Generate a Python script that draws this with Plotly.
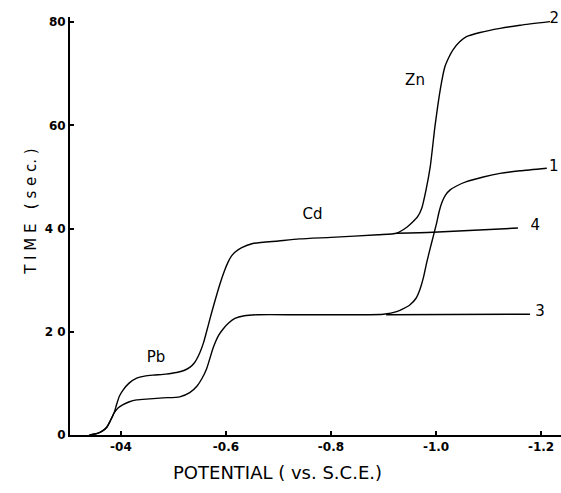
import plotly.graph_objects as go

# Chronopotentiometric transition curves, potential (V vs. S.C.E.) against time (sec.)
curve1_potential = [-0.340, -0.355, -0.365, -0.373, -0.380, -0.387, -0.395, -0.404, -0.415, -0.430,
                    -0.455, -0.480, -0.512, -0.531, -0.545, -0.554, -0.563, -0.576, -0.586, -0.595,
                    -0.605, -0.617, -0.635, -0.660, -0.740, -0.850, -0.900, -0.925, -0.950, -0.962,
                    -0.969, -0.976, -0.982, -0.989, -0.995, -1.001, -1.006, -1.011, -1.018, -1.027,
                    -1.040, -1.058, -1.090, -1.122, -1.160, -1.211]
curve1_time = [0.0, 0.3, 0.8, 1.5, 2.8, 4.3, 5.3, 5.9, 6.4, 6.8,
               7.0, 7.2, 7.4, 8.2, 9.5, 10.9, 12.8, 17.0, 19.3, 20.6,
               21.7, 22.6, 23.1, 23.3, 23.3, 23.3, 23.4, 23.9, 25.2, 26.5,
               28.1, 30.5, 33.3, 36.2, 38.6, 41.0, 43.3, 45.0, 46.5, 47.5,
               48.3, 49.1, 50.0, 50.7, 51.2, 51.7]

curve2_potential = [-0.340, -0.355, -0.365, -0.373, -0.380, -0.387, -0.392, -0.397, -0.404, -0.415,
                    -0.430, -0.445, -0.461, -0.485, -0.506, -0.520, -0.531, -0.540, -0.550, -0.557,
                    -0.563, -0.570, -0.576, -0.589, -0.597, -0.604, -0.610, -0.617, -0.630, -0.651,
                    -0.700, -0.740, -0.800, -0.890, -0.925, -0.945, -0.956, -0.965, -0.973, -0.981,
                    -0.989, -0.998, -1.008, -1.017, -1.025, -1.032, -1.045, -1.058, -1.084, -1.122,
                    -1.160, -1.217]
curve2_time = [0.0, 0.3, 0.8, 1.5, 2.8, 4.3, 6.0, 7.5, 8.7, 10.0,
               11.0, 11.4, 11.6, 11.8, 12.1, 12.5, 13.1, 14.0, 15.9, 17.8,
               20.0, 22.7, 24.9, 29.4, 31.8, 33.5, 34.6, 35.4, 36.3, 37.1,
               37.6, 38.0, 38.3, 38.8, 39.1, 40.3, 41.3, 42.3, 44.0, 47.5,
               52.0, 59.8, 66.9, 71.4, 73.3, 74.6, 76.2, 77.2, 78.0, 78.8,
               79.4, 80.1]

curve3_potential = [-0.905, -1.179]
curve3_time = [23.3, 23.4]

curve4_potential = [-0.925, -0.994, -1.156]
curve4_time = [39.1, 39.3, 40.1]

curve_numbers = ["1", "2", "3", "4"]
number_potential = [-1.224, -1.225, -1.198, -1.189]
number_time = [51.8, 80.6, 23.8, 40.5]

metal_names = ["Pb", "Cd", "Zn"]
metal_potential = [-0.467, -0.765, -0.960]
metal_time = [14.9, 42.6, 68.6]

x_tick_values = [-0.4, -0.6, -0.8, -1.0, -1.2]
x_tick_labels = ["-04", "-0.6", "-0.8", "-1.0", "-1.2"]
y_tick_values = [0, 20, 40, 60, 80]
y_tick_labels = ["0", "2 0", "4 0", "60", "80"]

FONT = "DejaVu Sans"
line_style = dict(color="black", width=1.4, shape="spline", smoothing=0.6)

fig = go.Figure()
for xs, ys in [(curve1_potential, curve1_time), (curve2_potential, curve2_time),
               (curve3_potential, curve3_time), (curve4_potential, curve4_time)]:
    fig.add_trace(go.Scatter(x=xs, y=ys, mode="lines", line=line_style,
                             cliponaxis=False, showlegend=False, hoverinfo="skip"))

fig.add_trace(go.Scatter(x=number_potential, y=number_time, mode="text", text=curve_numbers,
                         textfont=dict(family=FONT, size=15, color="black"),
                         cliponaxis=False, showlegend=False, hoverinfo="skip"))
fig.add_trace(go.Scatter(x=metal_potential, y=metal_time, mode="text", text=metal_names,
                         textfont=dict(family=FONT, size=15, color="black"),
                         cliponaxis=False, showlegend=False, hoverinfo="skip"))

fig.update_xaxes(range=[-0.303, -1.238], tickvals=x_tick_values, ticktext=x_tick_labels,
                 ticks="inside", ticklen=4, tickwidth=1.5, tickcolor="black",
                 showline=True, linecolor="black", linewidth=2, showgrid=False, zeroline=False,
                 tickfont=dict(family=FONT, size=12, color="black", weight="bold"))
fig.update_yaxes(range=[0, 81], tickvals=y_tick_values, ticktext=y_tick_labels,
                 ticks="inside", ticklen=4, tickwidth=1.5, tickcolor="black",
                 showline=True, linecolor="black", linewidth=2, showgrid=False, zeroline=False,
                 tickfont=dict(family=FONT, size=12, color="black", weight="bold"))

plot_h = 435 - 17.3
fig.add_annotation(text="POTENTIAL ( vs. S.C.E.)", xref="paper", yref="paper",
                   x=(277 - 70) / 491, y=-(485 - 435) / plot_h, showarrow=False,
                   font=dict(family=FONT, size=18, color="black"))
fig.add_annotation(text="T I M E   ( s e c. )", xref="paper", yref="paper",
                   x=-(70 - 20) / 491, y=(435 - 212) / plot_h, textangle=-90, showarrow=False,
                   font=dict(family=FONT, size=15, color="black"))

fig.update_layout(width=561, height=493, margin=dict(l=70, r=0, t=17.3, b=58),
                  plot_bgcolor="white", paper_bgcolor="white")

fig.write_html("out.html")
